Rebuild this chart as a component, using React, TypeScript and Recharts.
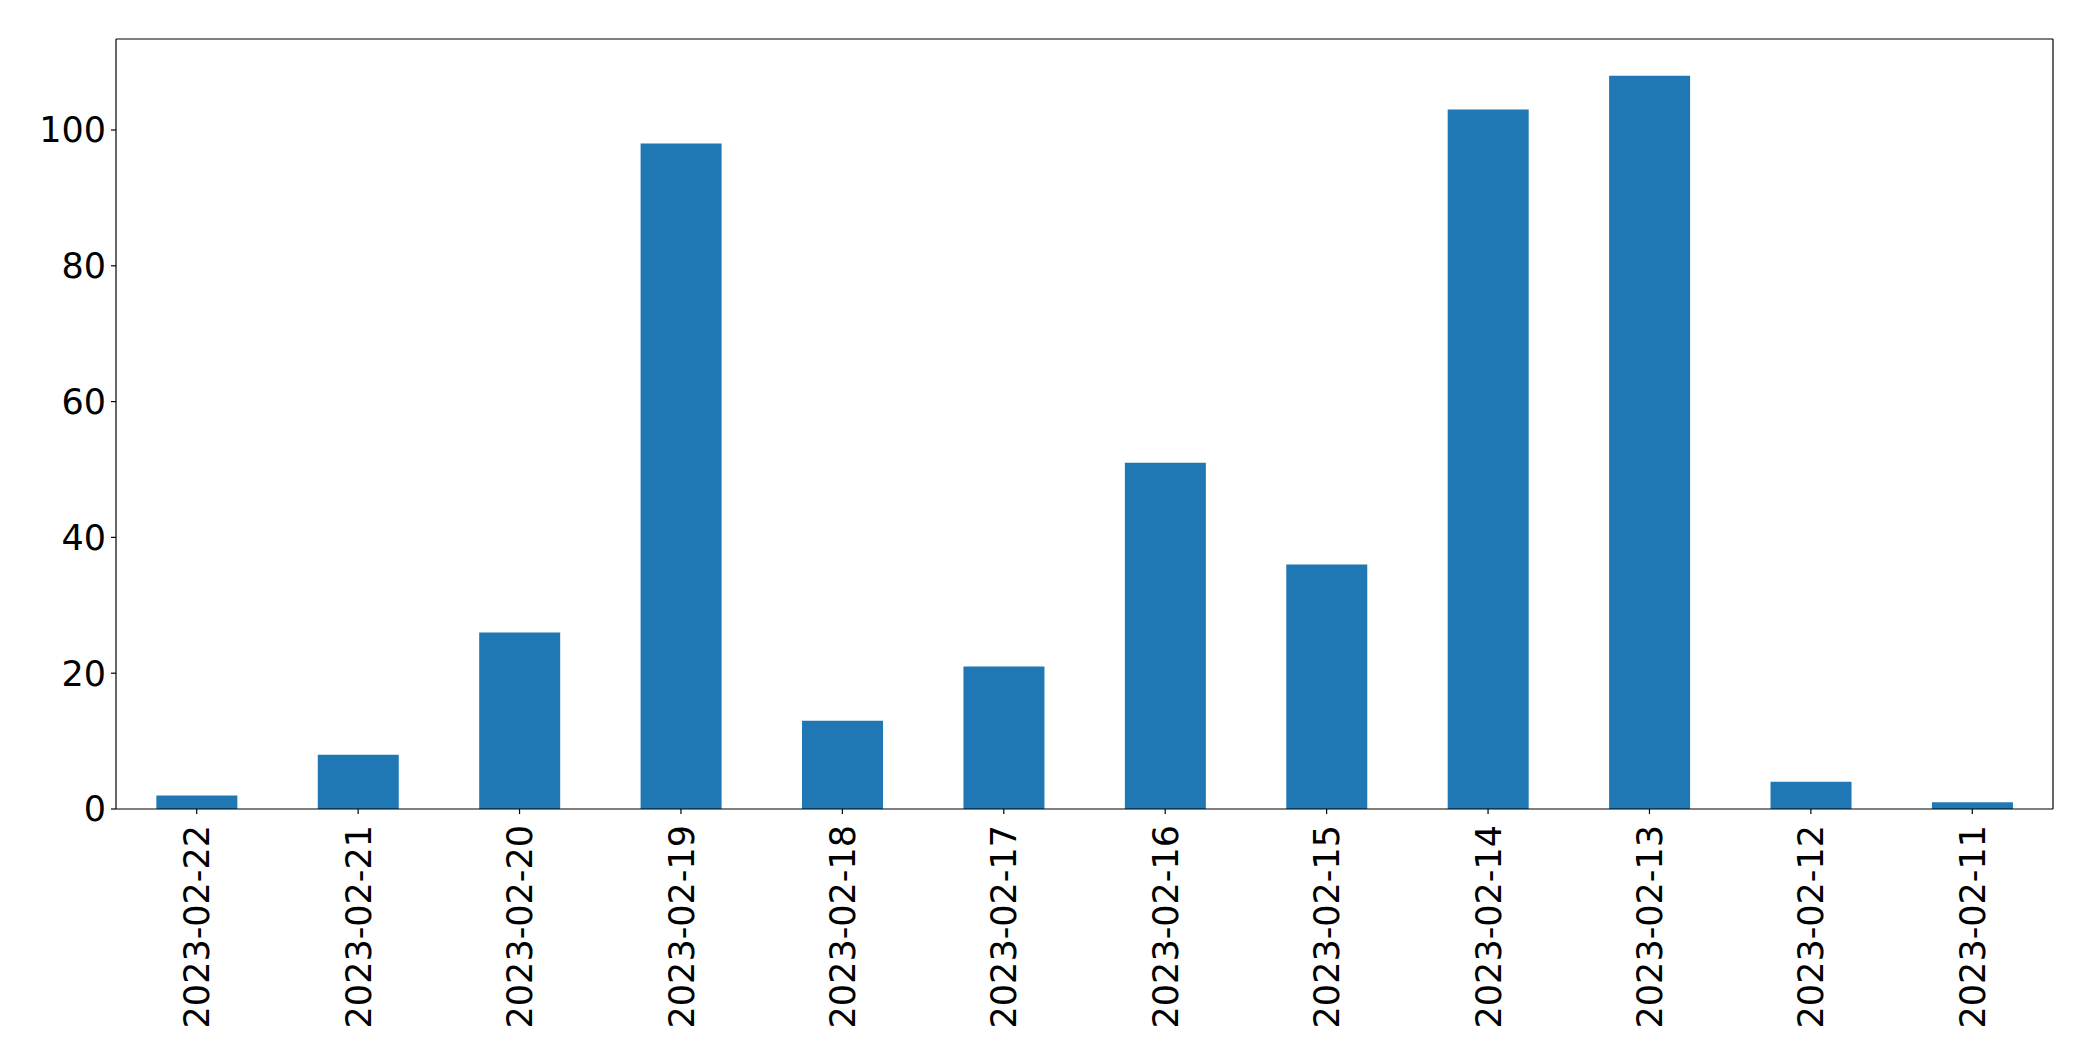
import { BarChart, Bar, XAxis, YAxis, CartesianGrid } from "recharts";

const dates = [
  "2023-02-22", "2023-02-21", "2023-02-20", "2023-02-19", "2023-02-18", "2023-02-17",
  "2023-02-16", "2023-02-15", "2023-02-14", "2023-02-13", "2023-02-12", "2023-02-11",
];
const counts = [2, 8, 26, 98, 13, 21, 51, 36, 103, 108, 4, 1];
const yTicks = [0, 20, 40, 60, 80, 100];

const data = dates.map((d, i) => ({ date: d, count: counts[i] }));

const FONT = "'DejaVu Sans', sans-serif";

function DateTick(props: any) {
  const { x, y, payload } = props;
  return (
    <g>
      <line x1={x} x2={x} y1={y - 8} y2={y - 3} stroke="#000" strokeWidth={1.2} />
      <text
        x={x}
        y={y + 8}
        transform={`rotate(-90, ${x}, ${y + 8})`}
        textAnchor="end"
        dy="0.36em"
        fontSize={35}
        fontFamily={FONT}
        fill="#000"
      >
        {payload.value}
      </text>
    </g>
  );
}

export default function App() {
  return (
    <div style={{ position: "absolute", left: 0, top: 0, background: "#fff" }}>
      <BarChart
        width={2093}
        height={1061}
        data={data}
        margin={{ top: 39, right: 40, left: 0, bottom: 0 }}
        barCategoryGap="25%"
      >
        {/* frame: top and right edges of the axes box */}
        <CartesianGrid
          stroke="#000"
          strokeWidth={1.2}
          horizontalCoordinatesGenerator={({ offset }: any) => [offset.top]}
          verticalCoordinatesGenerator={({ offset }: any) => [offset.left + offset.width]}
        />
        <XAxis
          dataKey="date"
          height={252}
          interval={0}
          tickLine={false}
          axisLine={{ stroke: "#000", strokeWidth: 1.2 }}
          tick={<DateTick />}
        />
        <YAxis
          width={116}
          domain={[0, 113.4]}
          ticks={yTicks}
          interval={0}
          tickSize={5}
          tickMargin={5}
          tickLine={{ stroke: "#000", strokeWidth: 1.2 }}
          axisLine={{ stroke: "#000", strokeWidth: 1.2 }}
          tick={{ fill: "#000", fontSize: 35, fontFamily: FONT }}
        />
        <Bar dataKey="count" fill="#1f77b4" isAnimationActive={false} />
      </BarChart>
    </div>
  );
}
